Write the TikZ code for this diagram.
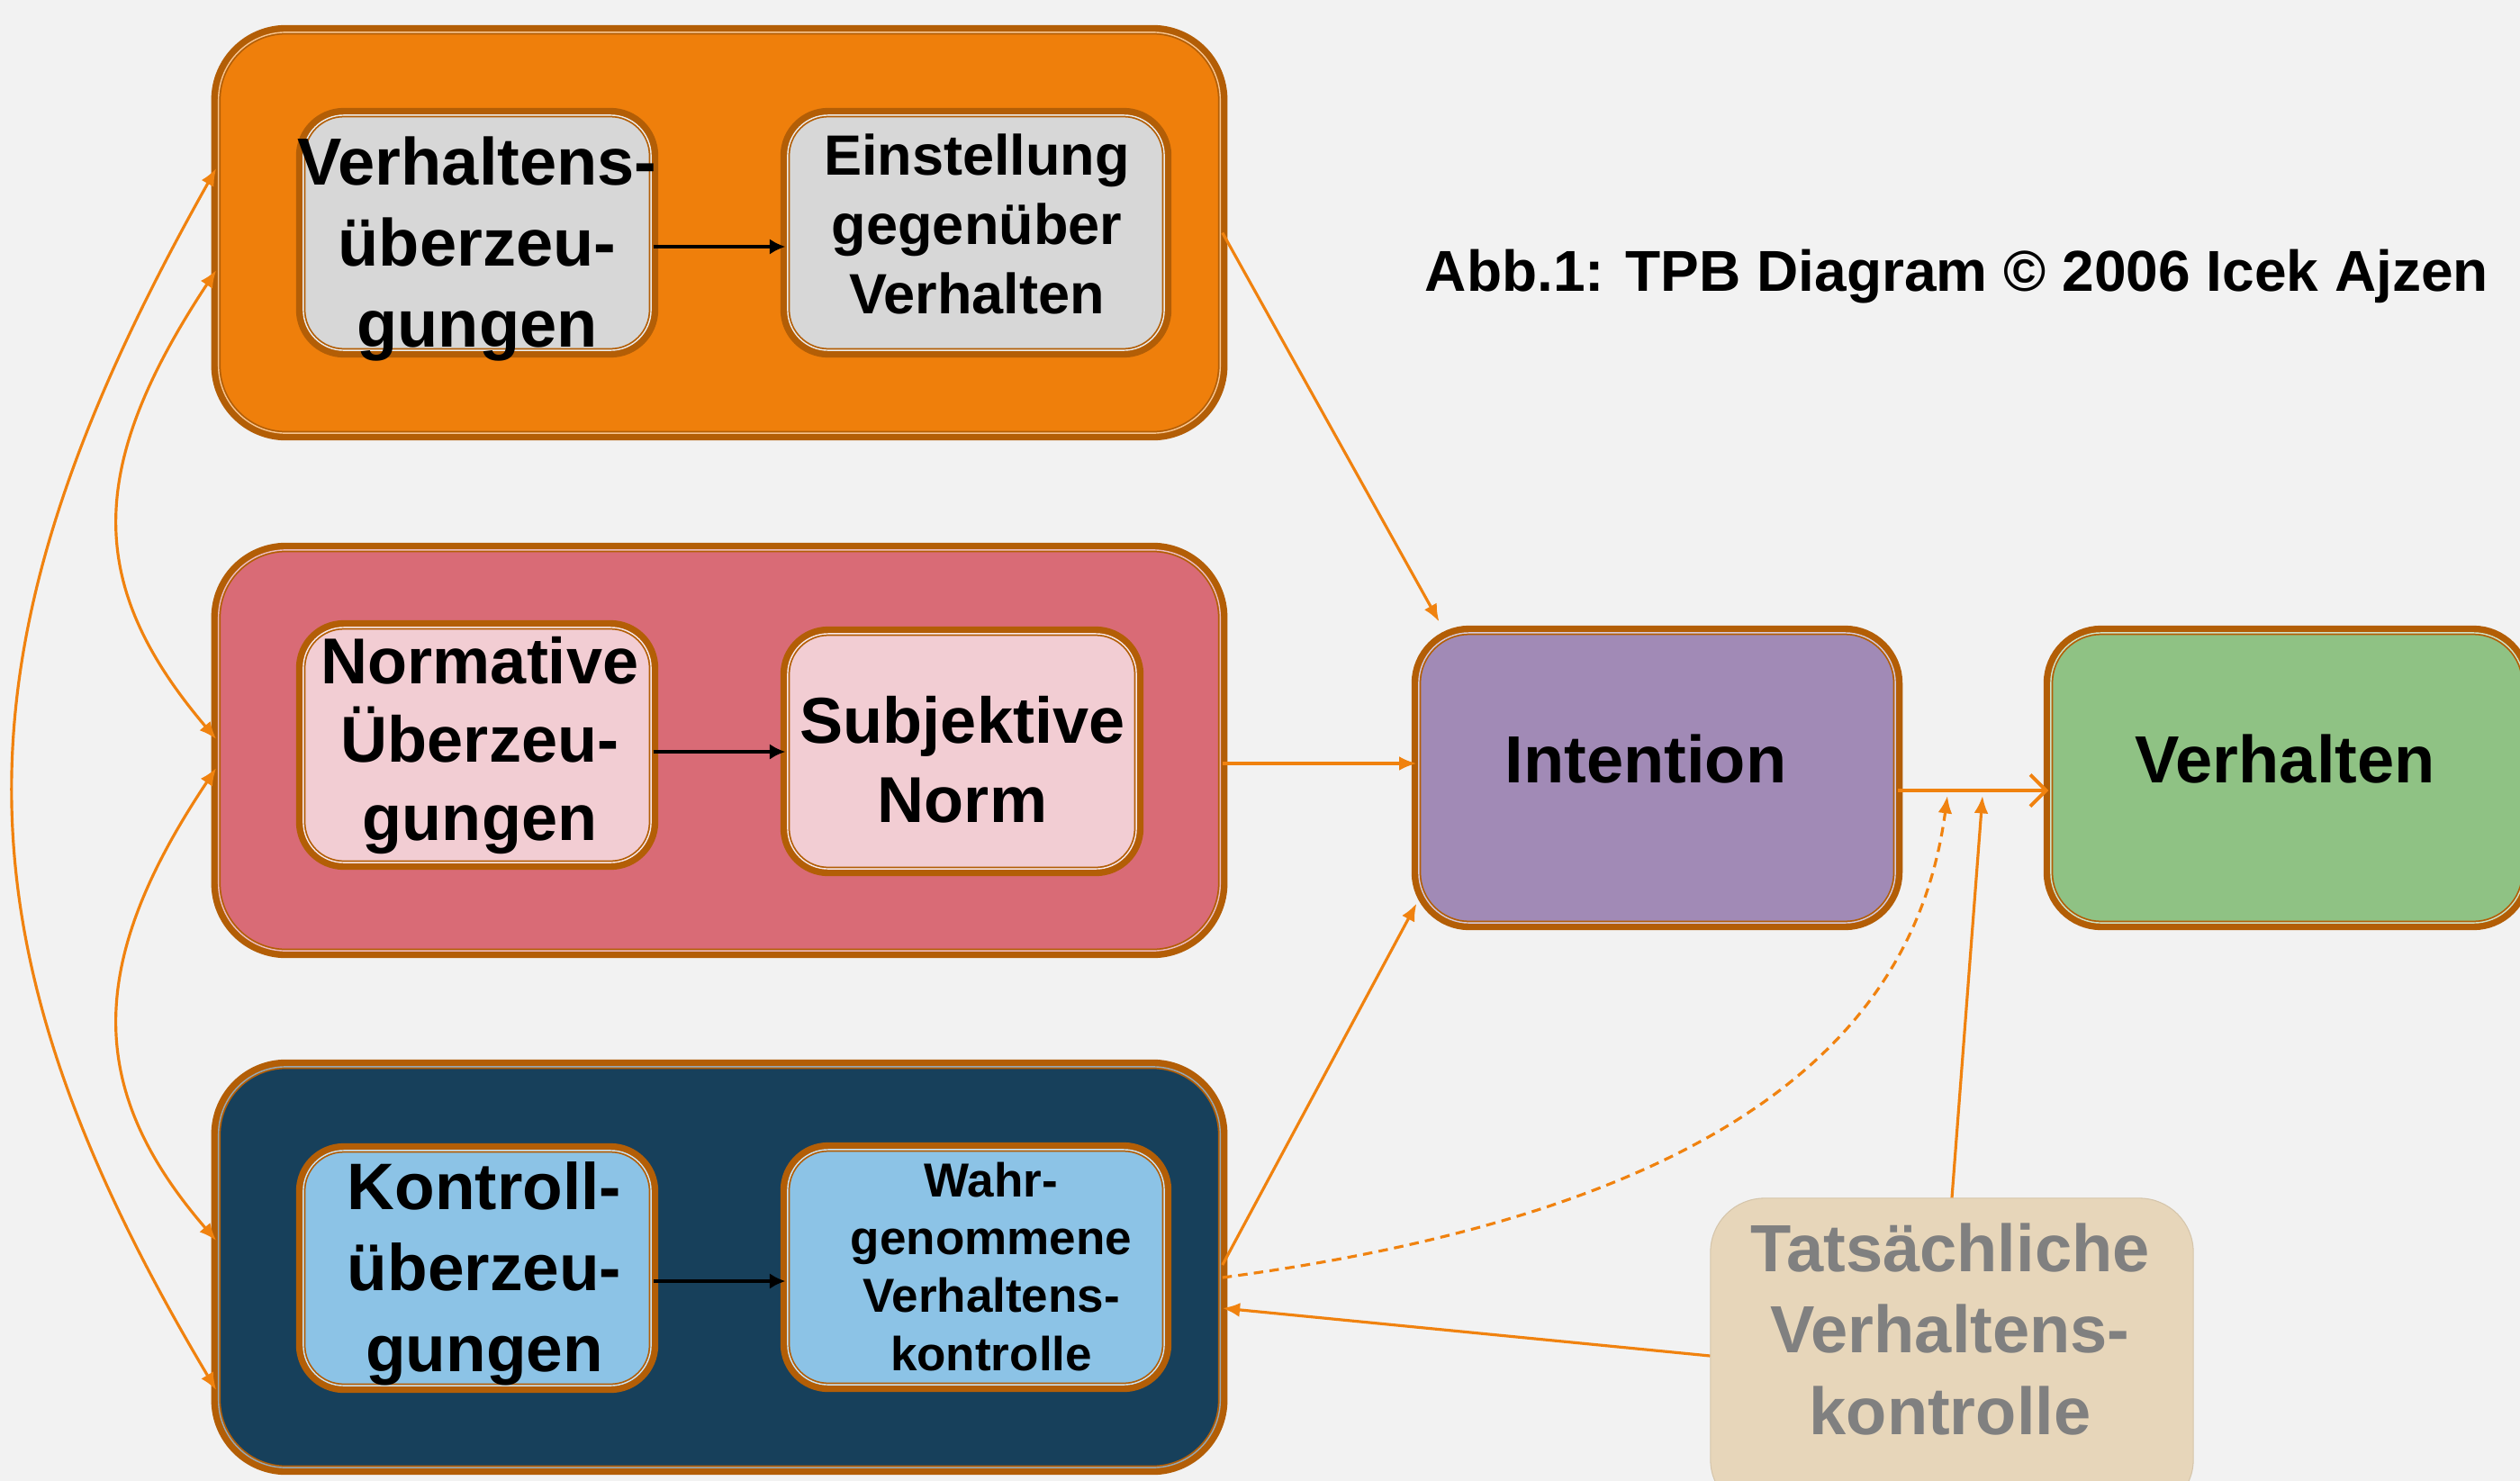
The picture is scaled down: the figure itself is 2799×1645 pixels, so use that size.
\documentclass[tikz,border=0pt]{standalone}
\usepackage{fontspec}
\setmainfont{Liberation Sans}
\usetikzlibrary{arrows.meta}
\definecolor{bgc}{HTML}{F2F2F2}
\definecolor{brd}{HTML}{B35E06}
\definecolor{orn}{HTML}{EF7F0B}
\definecolor{redb}{HTML}{D96B76}
\definecolor{navy}{HTML}{17405B}
\definecolor{grayin}{HTML}{D7D7D7}
\definecolor{pinkin}{HTML}{F2CDD3}
\definecolor{bluein}{HTML}{8CC3E6}
\definecolor{purp}{HTML}{A18AB6}
\definecolor{grn}{HTML}{8FC284}
\definecolor{beige}{HTML}{E7D6BA}
\definecolor{cnc}{HTML}{F0820F}
\definecolor{tgray}{HTML}{808080}
\newcommand\myfs[2]{\fontsize{#1}{#2}\selectfont\bfseries}
\begin{document}
\begin{tikzpicture}[x=0.01cm, y=-0.01cm,
  >={Latex[length=5.5pt,width=4.5pt]},
  boxframe/.style={rectangle, fill=#1, draw=brd, line width=1.4pt, inner sep=0pt,
     preaction={draw=brd, line width=4.6pt},
     postaction={draw=#1!45!white, line width=0.4pt}},
  bigbox/.style={boxframe=#1, rounded corners=0.75cm, minimum width=11.12cm, minimum height=4.45cm},
  inbox/.style={boxframe=#1, rounded corners=0.45cm, minimum height=2.61cm},
  txt/.style={align=center, inner sep=0pt, text=black},
  cn/.style={draw=cnc, line width=0.9pt},
  blk/.style={draw=black, line width=1.3pt, -{Latex[length=5pt,width=5pt]}},
]
\useasboundingbox (0,0) rectangle (2799,1645);
\fill[bgc] (0,0) rectangle (2799,1645);
\clip (0,0) rectangle (2799,1645);

% group boxes
\node[bigbox=orn] (orange) at (799,258.5) {};
\node[bigbox=redb] (red) at (799,833.5) {};
\node[bigbox=navy] (blue) at (799,1407.5) {};

% inner boxes
\node[inbox=grayin, minimum width=3.86cm] (vub) at (530,258.5) {};
\node[inbox=grayin, minimum width=4.18cm] (ein) at (1084,258.5) {};
\node[inbox=pinkin, minimum width=3.86cm] (nub) at (530,827.5) {};
\node[inbox=pinkin, minimum width=3.87cm] (sn) at (1068.5,834.5) {};
\node[inbox=bluein, minimum width=3.86cm] (kub) at (530,1408.5) {};
\node[inbox=bluein, minimum width=4.18cm] (wvk) at (1084,1407.5) {};

% right boxes
\node[boxframe=purp, rounded corners=0.56cm, minimum width=5.29cm, minimum height=3.22cm] (int) at (1840.5,864) {};
\node[boxframe=grn, rounded corners=0.56cm, minimum width=5.25cm, minimum height=3.22cm] (ver) at (2540.5,864) {};
\node[rectangle, fill=beige, draw=beige!92!black, line width=0.3pt, rounded corners=0.6cm, minimum width=5.36cm, minimum height=3.5cm] (tat) at (2168,1506) {};

% texts
\node[txt, font={\myfs{21.06pt}{25.6pt}}] (vubt) at (530,276.5) {Verhaltens-\\überzeu-\\gungen};
\node[txt, font={\myfs{17.93pt}{21.91pt}}] (eint) at (1085,249) {Einstellung\\gegenüber\\Verhalten};
\node[txt, font={\myfs{20.49pt}{24.75pt}}] (nubt) at (533,828) {Normative\\Überzeu-\\gungen};
\node[txt, font={\myfs{20.49pt}{25pt}}] (snt) at (1069,844) {Subjektive\\Norm};
\node[txt, font={\myfs{20.77pt}{25.6pt}}] (kubt) at (538,1415) {Kontroll-\\überzeu-\\gungen};
\node[txt, font={\myfs{15.08pt}{18.21pt}}] (wvkt) at (1101,1407) {Wahr-\\genommene\\Verhaltens-\\kontrolle};
\node[txt, font={\myfs{21.06pt}{25.6pt}}] (intt) at (1828,843.5) {Intention};
\node[txt, font={\myfs{21.06pt}{25.6pt}}] (vert) at (2538,843.5) {Verhalten};
\node[txt, text=tgray, font={\myfs{21.06pt}{25.6pt}}] (tatt) at (2166,1476.5) {Tatsächliche\\Verhaltens-\\kontrolle};
\node[txt, font={\myfs{18.21pt}{22pt}}] (title) at (2173.5,307) {Abb.1: TPB Diagram © 2006 Icek Ajzen};

% inner black arrows
\coordinate (a1) at (0,274);
\coordinate (a2) at (0,835);
\coordinate (a3) at (0,1423);
\draw[blk] (vub.east |- a1) -- (ein.west |- a1);
\draw[blk] (nub.east |- a2) -- (sn.west |- a2);
\draw[blk] (kub.east |- a3) -- (wvk.west |- a3);

% connectors to intention
\coordinate (a4) at (0,848);
\coordinate (a5) at (0,878);
\draw[cn, ->] (orange.east) -- ([xshift=0.25cm, yshift=0.1cm]int.north west);
\draw[cn, ->] (red.east |- a4) -- (int.west |- a4);
\draw[cn, ->] ([yshift=0.025cm]blue.east) -- ([yshift=0.24cm]int.south west);
\draw[draw=cnc, line width=1.1pt, -{Straight Barb[length=5pt,width=10pt]}] (int.east |- a5) -- (ver.west |- a5);

% actual behavioural control
\coordinate (m1) at (2163,884);
\coordinate (m2) at (2202,884);
\draw[cn, ->, dash pattern=on 3pt off 2pt] ([yshift=-0.115cm]blue.east) .. controls (1950,1340) and (2130,1130) .. (m1);
\draw[cn, ->] (tat.north) -- (m2);
\draw[cn, ->] (tat.west) -- ([yshift=-0.455cm]blue.east);

% left correlations
\draw[cn, <->] ([yshift=0.715cm]orange.west) .. controls (-60,720) and (-60,1040) .. ([yshift=-1.365cm]blue.west);
\draw[cn, <->] ([yshift=-0.415cm]orange.west) .. controls (95,520) and (95,650) .. ([yshift=0.125cm]red.west);
\draw[cn, <->] ([yshift=-0.195cm]red.west) .. controls (95,1070) and (95,1210) .. ([yshift=0.295cm]blue.west);
\end{tikzpicture}
\end{document}
